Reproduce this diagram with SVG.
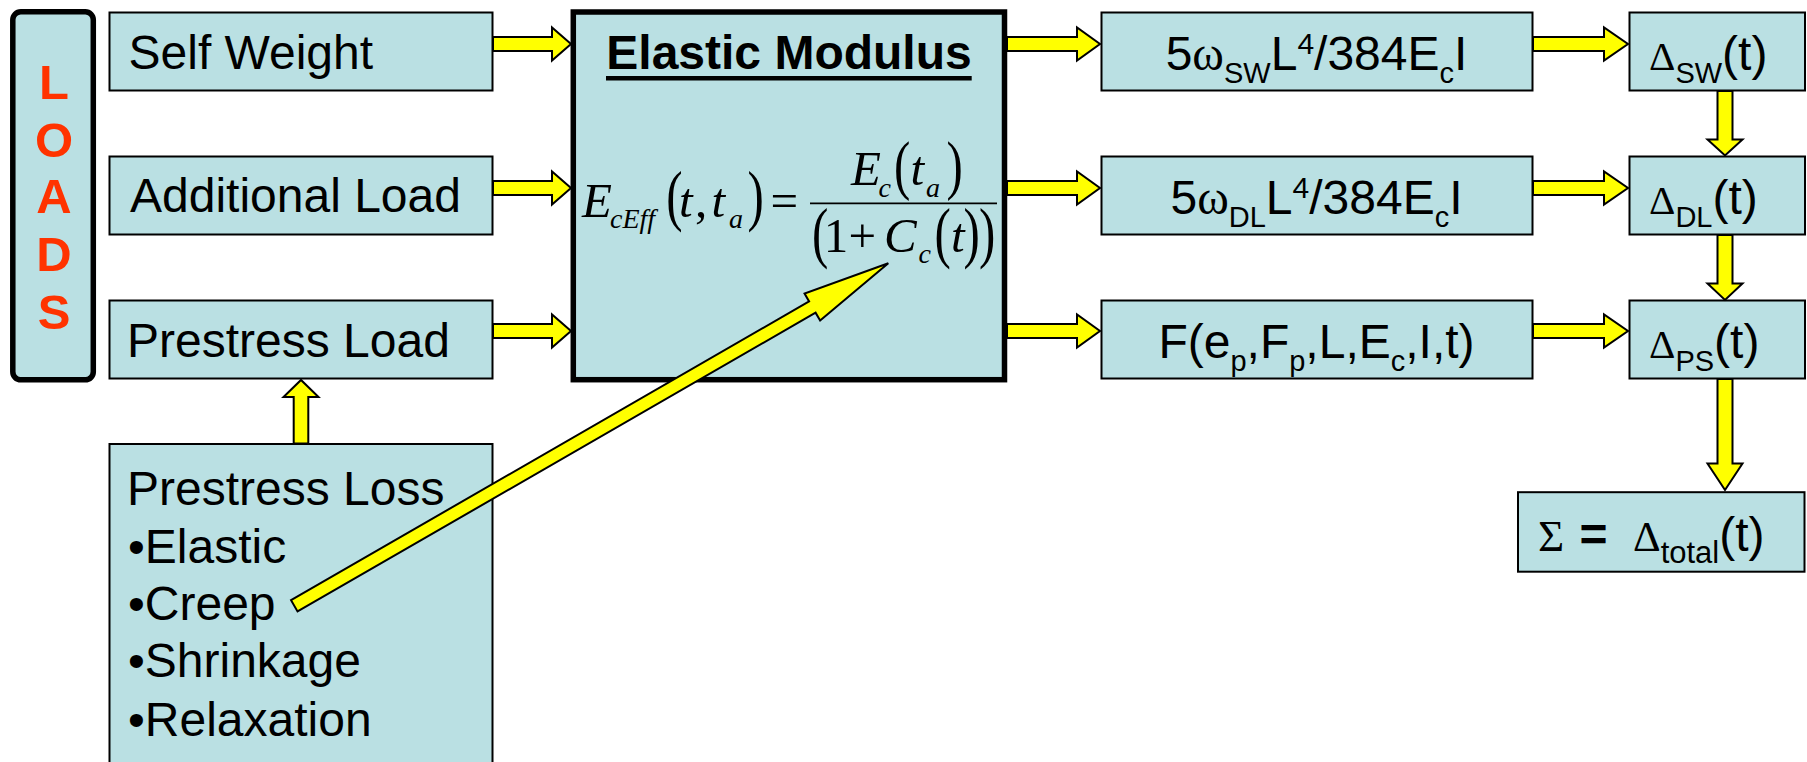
<svg xmlns="http://www.w3.org/2000/svg" width="1807" height="762" viewBox="0 0 1807 762">
<style>
.box{fill:#BAE0E3;stroke:#000;stroke-width:2}
.thick{fill:#BAE0E3;stroke:#000;stroke-width:5.5}
.arr{fill:#FFFF00;stroke:#000;stroke-width:2;stroke-linejoin:miter}
.t{font-family:"Liberation Sans",Arial,sans-serif;font-size:48px;fill:#000}
.ld{font-family:"Liberation Sans",Arial,sans-serif;font-size:49px;font-weight:bold;fill:#FF3300;text-anchor:middle}
.sub{font-size:29px}
.sr{font-family:"Liberation Serif","Times New Roman",serif}
.m{font-family:"Liberation Serif","Times New Roman",serif;font-size:49px;font-style:italic;fill:#000}
.ms{font-size:28px}
.up{font-style:normal}
.mr{font-family:"Liberation Serif","Times New Roman",serif;font-size:49px;fill:#000}
</style>
<rect width="1807" height="762" fill="#fff"/>

<g id="loads">
<rect x="12.8" y="11.8" width="80.5" height="368" rx="8" class="thick"/>
<text class="ld" x="54" y="98.7">L</text>
<text class="ld" x="54" y="156.7">O</text>
<text class="ld" x="54" y="213.3">A</text>
<text class="ld" x="54" y="270.7">D</text>
<text class="ld" x="54" y="329">S</text>
</g>

<g id="self-weight">
<rect x="109.5" y="12.5" width="383" height="78" class="box"/>
<text class="t" x="128.5" y="69">Self Weight</text>
</g>
<g id="additional-load">
<rect x="109.5" y="156.5" width="383" height="78" class="box"/>
<text class="t" x="130" y="212.3">Additional Load</text>
</g>
<g id="prestress-load">
<rect x="109.5" y="300.5" width="383" height="78" class="box"/>
<text class="t" x="127" y="357.3">Prestress Load</text>
</g>
<g id="prestress-loss">
<rect x="109.5" y="444" width="383" height="330" class="box"/>
<text class="t" x="127" y="505.3">Prestress Loss</text>
<text class="t" x="128" y="562.7">•Elastic</text>
<text class="t" x="128" y="620">•Creep</text>
<text class="t" x="128" y="676.7">•Shrinkage</text>
<text class="t" x="128" y="736">•Relaxation</text>
</g>

<g id="elastic-modulus">
<rect x="573.3" y="12" width="431.2" height="367.7" class="thick"/>
<text class="t" x="789" y="68.5" text-anchor="middle" font-weight="bold">Elastic Modulus</text>
<line x1="606" y1="78.3" x2="971.7" y2="78.3" stroke="#000" stroke-width="4.5"/>
<text class="m" x="582" y="216.7">E<tspan class="ms" x="610" dy="11.6">cEff</tspan></text>
<text class="mr" transform="translate(666.3,218.2) scale(1,1.37)">(</text>
<text class="m" x="679" y="216.7">t<tspan class="up" x="695">,</tspan><tspan x="711.6">t</tspan><tspan class="ms" x="729" dy="11.6">a</tspan></text>
<text class="mr" transform="translate(747.5,218.2) scale(1,1.37)">)</text>
<text class="mr" x="770.6" y="216.7">=</text>
<line x1="810" y1="203.3" x2="997" y2="203.3" stroke="#000" stroke-width="1.8"/>
<text class="m" x="851" y="185">E<tspan class="ms" x="878.5" dy="11.7">c</tspan></text>
<text class="mr" transform="translate(894,186.6) scale(1,1.33)">(</text>
<text class="m" x="910.6" y="185">t<tspan class="ms" x="926" dy="11.7">a</tspan></text>
<text class="mr" transform="translate(946.5,186.6) scale(1,1.33)">)</text>
<text class="mr" transform="translate(812,254.9) scale(1,1.37)">(</text>
<text class="mr" x="823.7" y="251.7">1<tspan x="848.5">+</tspan></text>
<text class="m" x="884" y="251.7">C<tspan class="ms" x="918.5" dy="11.6">c</tspan></text>
<text class="mr" transform="translate(934.5,254.9) scale(1,1.37)">(</text>
<text class="m" x="951" y="251.7">t</text>
<text class="mr" transform="translate(963.5,254.9) scale(1,1.37)">)</text>
<text class="mr" transform="translate(979,254.9) scale(1,1.37)">)</text>
</g>

<g id="defl-sw-formula">
<rect x="1101.5" y="12.5" width="431" height="78" class="box"/>
<text class="t" x="1316.5" y="70" text-anchor="middle">5<tspan class="sr">ω</tspan><tspan class="sub" dy="12.7">SW</tspan><tspan dy="-12.7">L</tspan><tspan font-size="30" dy="-16">4</tspan><tspan dy="16">/384E</tspan><tspan class="sub" dy="12.7">c</tspan><tspan dy="-12.7">I</tspan></text>
</g>
<g id="defl-dl-formula">
<rect x="1101.5" y="156.5" width="431" height="78" class="box"/>
<text class="t" x="1316.5" y="214" text-anchor="middle">5<tspan class="sr">ω</tspan><tspan class="sub" dy="12.7">DL</tspan><tspan dy="-12.7">L</tspan><tspan font-size="30" dy="-16">4</tspan><tspan dy="16">/384E</tspan><tspan class="sub" dy="12.7">c</tspan><tspan dy="-12.7">I</tspan></text>
</g>
<g id="defl-ps-formula">
<rect x="1101.5" y="300.5" width="431" height="78" class="box"/>
<text class="t" x="1316.5" y="358" text-anchor="middle">F(e<tspan class="sub" dy="12.7">p</tspan><tspan dy="-12.7">,F</tspan><tspan class="sub" dy="12.7">p</tspan><tspan dy="-12.7">,L,E</tspan><tspan class="sub" dy="12.7">c</tspan><tspan dy="-12.7">,I,t)</tspan></text>
</g>

<g id="delta-sw">
<rect x="1629.5" y="12.5" width="175.5" height="78" class="box"/>
<text class="t" x="1649" y="70"><tspan class="sr" font-size="41">Δ</tspan><tspan font-size="29" dy="12.7">SW</tspan><tspan font-size="48" dy="-12.7">(t)</tspan></text>
</g>
<g id="delta-dl">
<rect x="1629.5" y="156.5" width="175.5" height="78" class="box"/>
<text class="t" x="1649" y="214"><tspan class="sr" font-size="41">Δ</tspan><tspan font-size="29" dy="12.7">DL</tspan><tspan font-size="48" dy="-12.7">(t)</tspan></text>
</g>
<g id="delta-ps">
<rect x="1629.5" y="300.5" width="175.5" height="78" class="box"/>
<text class="t" x="1649" y="358"><tspan class="sr" font-size="41">Δ</tspan><tspan font-size="29" dy="12.7">PS</tspan><tspan font-size="48" dy="-12.7">(t)</tspan></text>
</g>
<g id="delta-total">
<rect x="1518" y="492.2" width="286.5" height="79.5" class="box" stroke-width="4.5"/>
<text class="t" x="1538" y="551"><tspan class="sr" font-size="45">Σ</tspan><tspan x="1579.5" font-weight="bold">=</tspan><tspan x="1633" class="sr" font-size="43">Δ</tspan><tspan font-size="31" dy="12.3">total</tspan><tspan dy="-12.3">(t)</tspan></text>
</g>

<g id="connectors">
<path class="arr" d="M493,37 H552 V27.5 L571,44 L552,60.5 V51 H493 Z"/>
<path class="arr" d="M493,181 H552 V171.5 L571,188 L552,204.5 V195 H493 Z"/>
<path class="arr" d="M493,324 H552 V314.5 L571,331 L552,347.5 V338 H493 Z"/>
<path class="arr" d="M1007,37 H1077 V27.5 L1100,44 L1077,60.5 V51 H1007 Z"/>
<path class="arr" d="M1007,181 H1077 V171.5 L1100,188 L1077,204.5 V195 H1007 Z"/>
<path class="arr" d="M1007,324 H1077 V314.5 L1100,331 L1077,347.5 V338 H1007 Z"/>
<path class="arr" d="M1533,37 H1604 V27.5 L1628,44 L1604,60.5 V51 H1533 Z"/>
<path class="arr" d="M1533,181 H1604 V171.5 L1628,188 L1604,204.5 V195 H1533 Z"/>
<path class="arr" d="M1533,324 H1604 V314.5 L1628,331 L1604,347.5 V338 H1533 Z"/>
<path class="arr" d="M1717.5,91 V139.5 H1707.5 L1725,155.5 L1742.5,139.5 H1732.5 V91 Z"/>
<path class="arr" d="M1717.5,235 V283.5 H1707.5 L1725,300 L1742.5,283.5 H1732.5 V235 Z"/>
<path class="arr" d="M1717.5,379 V463.5 H1707.5 L1725,490 L1742.5,463.5 H1732.5 V379 Z"/>
<path class="arr" d="M293.7,443.5 V397 H283.5 L301,380 L318.5,397 H308.3 V443.5 Z"/>
<path class="arr" transform="translate(294.3,605.8) rotate(-29.97)" d="M0,-6.5 H598 V-15.6 L685.7,0 L598,15.6 V6.5 H0 Z"/>
</g>
</svg>
